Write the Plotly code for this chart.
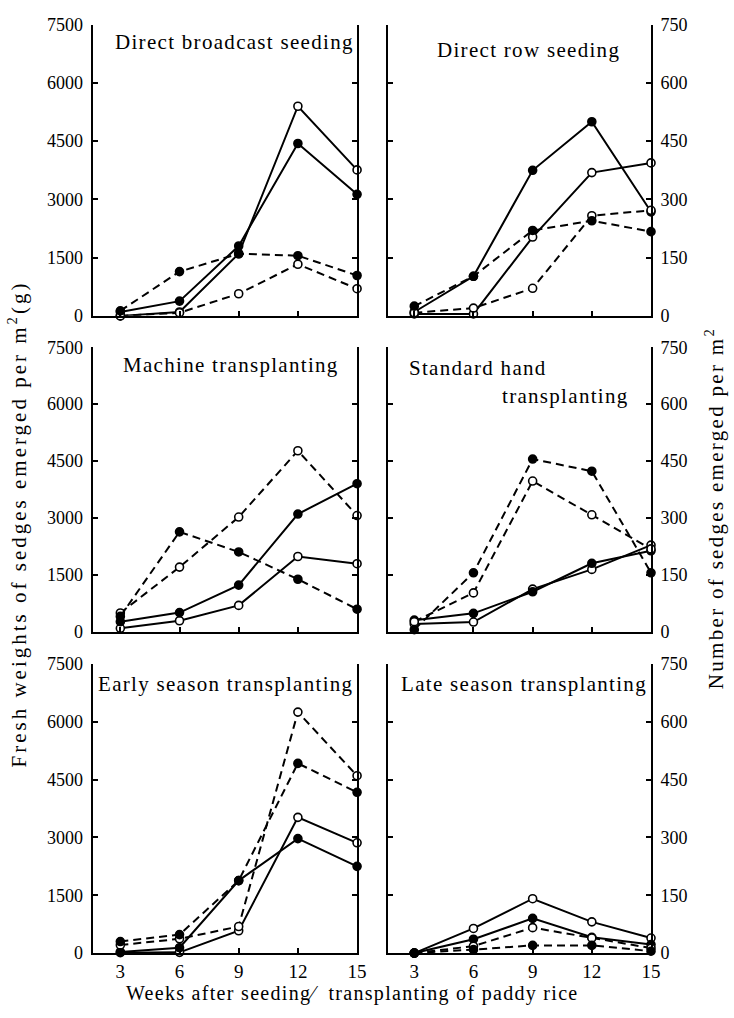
import plotly.graph_objects as go

W, H = 734, 1018

weeks = [3, 6, 9, 12, 15]
week_labels = ["3", "6", "9", "12", "15"]

left_ticks = [0, 1500, 3000, 4500, 6000, 7500]
right_ticks = [0, 150, 300, 450, 600, 750]

# Direct broadcast seeding (left scale, g)
broadcast_solid_open = [0, 100, 1600, 5400, 3760]
broadcast_solid_filled = [100, 380, 1800, 4440, 3130]
broadcast_dashed_filled = [130, 1140, 1600, 1550, 1040]
broadcast_dashed_open = [0, 80, 570, 1330, 700]

# Direct row seeding (right scale, number)
row_solid_open = [5, 5, 203, 369, 394]
row_solid_filled = [10, 102, 375, 500, 268]
row_dashed_filled = [25, 102, 220, 245, 217]
row_dashed_open = [8, 20, 71, 258, 272]

# Machine transplanting (left scale)
machine_solid_open = [85, 285, 690, 1980, 1790]
machine_solid_filled = [260, 500, 1225, 3100, 3900]
machine_dashed_open = [490, 1700, 3020, 4770, 3060]
machine_dashed_filled = [400, 2630, 2100, 1380, 590]

# Standard hand transplanting (right scale)
hand_solid_open = [20, 25, 112, 164, 228]
hand_solid_filled = [30, 48, 105, 180, 213]
hand_dashed_open = [26, 102, 397, 308, 218]
hand_dashed_filled = [5, 155, 455, 423, 155]

# Early season transplanting (left scale)
early_solid_open = [10, 20, 580, 3520, 2860]
early_solid_filled = [30, 140, 1880, 2970, 2250]
early_dashed_open = [210, 370, 690, 6250, 4600]
early_dashed_filled = [300, 480, 1880, 4920, 4170]

# Late season transplanting (right scale)
late_solid_open = [0, 64, 141, 81, 39]
late_solid_filled = [0, 36, 90, 41, 22]
late_dashed_open = [0, 18, 66, 39, 13]
late_dashed_filled = [0, 9, 20, 20, 5]

panel_titles = [
    [("Direct broadcast seeding", 115, 33)],
    [("Direct row seeding", 441, 41)],
    [("Machine transplanting", 123, 362)],
    [("Standard hand", 413, 365), ("transplanting", 507, 394)],
    [("Early season transplanting", 97, 687)],
    [("Late season transplanting", 405, 688)],
]
panel_sides = ["left", "right", "left", "right", "left", "right"]
panel_series = [
    [broadcast_solid_open, broadcast_solid_filled, broadcast_dashed_open, broadcast_dashed_filled],
    [row_solid_open, row_solid_filled, row_dashed_open, row_dashed_filled],
    [machine_solid_open, machine_solid_filled, machine_dashed_open, machine_dashed_filled],
    [hand_solid_open, hand_solid_filled, hand_dashed_open, hand_dashed_filled],
    [early_solid_open, early_solid_filled, early_dashed_open, early_dashed_filled],
    [late_solid_open, late_solid_filled, late_dashed_open, late_dashed_filled],
]

styles = [
    dict(dash="solid", fill="white"),
    dict(dash="solid", fill="black"),
    dict(dash="8px,5px", fill="white"),
    dict(dash="8px,5px", fill="black"),
]

FONT = "Liberation Serif"

# pixel layout
col_px = {"left": (94, 362), "right": (393, 660)}
col_range = {"left": [1.6, 15.0], "right": [1.65, 15.0]}
row_px = [(15, 312), (344, 634), (667, 962)]

fig = go.Figure()
layout = dict(
    width=W, height=H, margin=dict(l=0, r=0, t=0, b=0),
    paper_bgcolor="white", plot_bgcolor="white", showlegend=False,
    font=dict(family=FONT, color="black", size=18),
)
annotations = []

for i in range(6):
    r = i // 2
    side = panel_sides[i]
    n = "" if i == 0 else str(i + 1)
    xa, ya = "x" + n, "y" + n
    x0, x1 = col_px[side]
    yt, yb = row_px[r]
    is_left = side == "left"
    layout["xaxis" + n] = dict(
        domain=[x0 / W, x1 / W], range=col_range[side], anchor=ya,
        showline=True, linecolor="black", linewidth=2, mirror=False,
        ticks="inside", ticklen=5, tickwidth=1.5, tickcolor="black",
        tickvals=weeks, ticktext=week_labels, showticklabels=(r == 2),
        showgrid=False, zeroline=False, tickfont=dict(size=19),
        ticklabelstandoff=0,
    )
    layout["yaxis" + n] = dict(
        domain=[1 - yb / H, 1 - yt / H],
        range=[0, 7500] if is_left else [0, 750], anchor=xa,
        side="left" if is_left else "right",
        showline=True, linecolor="black", linewidth=2, mirror="ticks",
        ticks="inside", ticklen=5, tickwidth=1.5, tickcolor="black",
        tickvals=left_ticks if is_left else right_ticks,
        showgrid=False, zeroline=False, tickfont=dict(size=18),
        ticklabelstandoff=4,
    )
    for s, st in zip(panel_series[i], styles):
        fig.add_trace(go.Scatter(
            x=weeks, y=s, xaxis=xa, yaxis=ya, mode="lines+markers",
            line=dict(color="black", width=2, dash=st["dash"]),
            marker=dict(symbol="circle", size=8, color=st["fill"],
                        line=dict(color="black", width=1.6)),
            cliponaxis=False, hoverinfo="skip",
        ))
    for text, tx, ty in panel_titles[i]:
        annotations.append(dict(
            x=tx / W, y=1 - ty / H, xref="paper", yref="paper",
            xanchor="left", yanchor="middle", align="left", showarrow=False,
            text='<span style="letter-spacing:1.3px">' + text + "</span>",
            font=dict(size=21, family=FONT),
        ))

annotations.append(dict(
    x=18 / W, y=1 - 524 / H, xref="paper", yref="paper", textangle=-90,
    showarrow=False, xanchor="center", yanchor="middle",
    text='<span style="letter-spacing:3px">Fresh weights of sedges emerged per m<sup>2</sup>(g)</span>',
    font=dict(size=21, family=FONT),
))
annotations.append(dict(
    x=724 / W, y=1 - 508 / H, xref="paper", yref="paper", textangle=-90,
    showarrow=False, xanchor="center", yanchor="middle",
    text='<span style="letter-spacing:2.3px">Number of sedges emerged per m<sup>2</sup></span>',
    font=dict(size=21, family=FONT),
))
annotations.append(dict(
    x=357 / W, y=1 - 1003 / H, xref="paper", yref="paper",
    showarrow=False, xanchor="center", yanchor="middle",
    text='<span style="letter-spacing:1.3px">Weeks after seeding\u2044  transplanting of paddy rice</span>',
    font=dict(size=20, family=FONT),
))
layout["annotations"] = annotations
fig.update_layout(**layout)
fig.write_html("out.html")
